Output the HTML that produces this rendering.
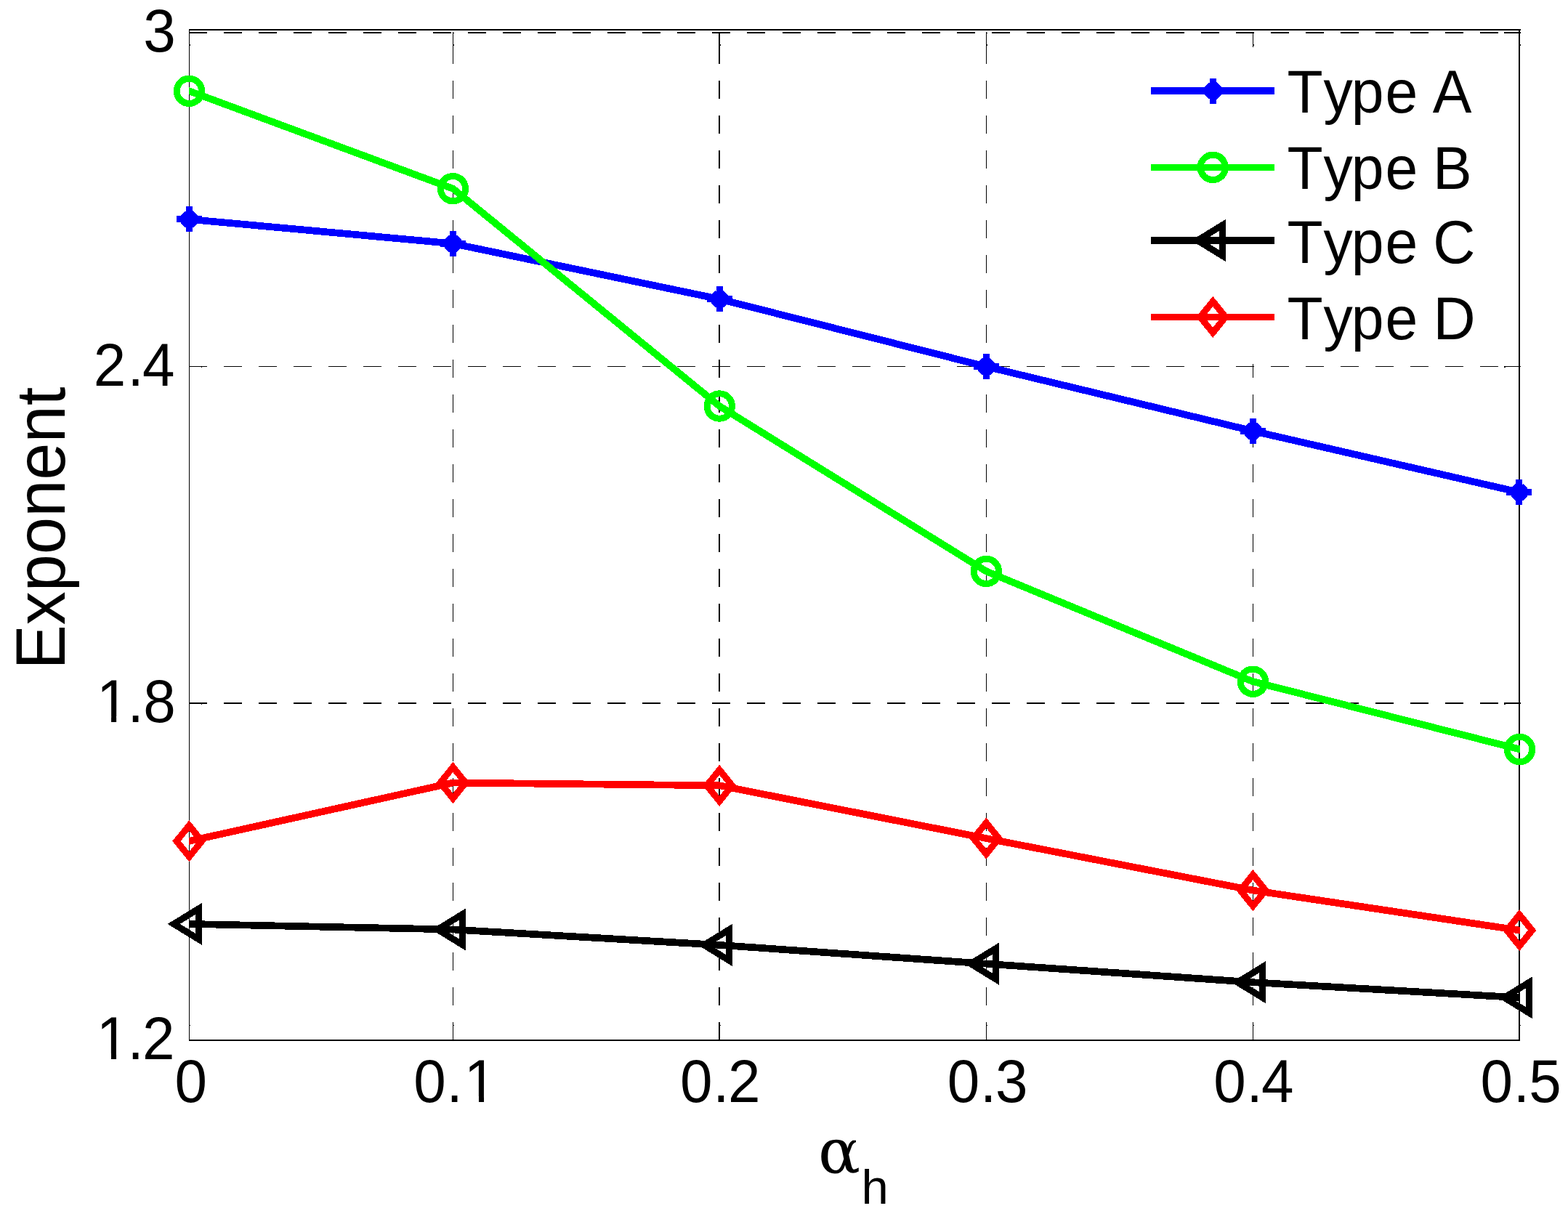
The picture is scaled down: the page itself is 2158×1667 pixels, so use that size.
<!DOCTYPE html>
<html><head><meta charset="utf-8"><title>Exponent vs alpha_h</title>
<style>
html,body{margin:0;padding:0;background:#fff;}
body{width:2158px;height:1667px;overflow:hidden;}
svg{display:block;}
text{font-family:"Liberation Sans",sans-serif;fill:#000;font-kerning:none;}
</style></head><body>
<svg width="2158" height="1667" viewBox="0 0 2158 1667">
<defs><clipPath id="ax"><rect x="260" y="40" width="1832" height="1393"/></clipPath></defs>
<rect width="2158" height="1667" fill="#fff"/>
<g stroke="#000" fill="none" shape-rendering="crispEdges">
<path d="M623.5 1432V63" stroke-width="1" stroke-dasharray="25 23"/><path d="M623.5 63V44" stroke-width="1"/>
<path d="M990 1432V63" stroke-width="2" stroke-dasharray="25 23"/><path d="M990 63V44" stroke-width="2"/>
<path d="M1357.5 1432V63" stroke-width="1" stroke-dasharray="25 23"/><path d="M1357.5 63V44" stroke-width="1"/>
<path d="M1724.5 1432V63" stroke-width="1" stroke-dasharray="25 23"/><path d="M1724.5 63V44" stroke-width="1"/>
<path d="M260 45H2070" stroke-width="2" stroke-dasharray="25 23.03"/><path d="M2070 45H2093" stroke-width="2"/>
<path d="M260 504.5H2070" stroke-width="1" stroke-dasharray="25 23.03"/><path d="M2070 504.5H2093" stroke-width="1"/>
<path d="M260 968H2070" stroke-width="2" stroke-dasharray="25 23.03"/><path d="M2070 968H2093" stroke-width="2"/>
<path d="M260.5 40V1433" stroke-width="1"/><path d="M2091 40V1433" stroke-width="2"/><path d="M260 41H2093" stroke-width="2"/><path d="M260 1432H2092" stroke-width="2"/>
<rect x="261" y="61" width="1" height="2" fill="#000" stroke="none"/>
<rect x="261" y="1411" width="1" height="1" fill="#000" stroke="none"/>
<rect x="624" y="61" width="1" height="2" fill="#000" stroke="none"/>
<rect x="624" y="1411" width="1" height="1" fill="#000" stroke="none"/>
<rect x="991" y="61" width="1" height="2" fill="#000" stroke="none"/>
<rect x="991" y="1411" width="1" height="1" fill="#000" stroke="none"/>
<rect x="1358" y="61" width="1" height="2" fill="#000" stroke="none"/>
<rect x="1358" y="1411" width="1" height="1" fill="#000" stroke="none"/>
<rect x="1725" y="61" width="1" height="2" fill="#000" stroke="none"/>
<rect x="1725" y="1411" width="1" height="1" fill="#000" stroke="none"/>
<rect x="2092" y="61" width="1" height="2" fill="#000" stroke="none"/>
<rect x="2092" y="1411" width="1" height="1" fill="#000" stroke="none"/>
<rect x="624" y="45" width="1" height="1" fill="#000" stroke="none"/>
<rect x="991" y="45" width="1" height="1" fill="#000" stroke="none"/>
<rect x="1358" y="45" width="1" height="1" fill="#000" stroke="none"/>
<rect x="1725" y="45" width="1" height="1" fill="#000" stroke="none"/>
<rect x="277" y="505" width="1" height="1" fill="#000" stroke="none"/>
<rect x="2070" y="505" width="2" height="1" fill="#000" stroke="none"/>
<rect x="277" y="969" width="1" height="1" fill="#000" stroke="none"/>
<rect x="2070" y="969" width="2" height="1" fill="#000" stroke="none"/>
</g>
<g shape-rendering="crispEdges">
<polyline points="248.4,300.8 260.4,301.9 623.4,335.3 990.2,411.7 1357.3,504.6 1724.4,593.3 2090.8,677.6 2102.8,680.36" stroke="#0000ff" stroke-width="9.7" fill="none" stroke-linejoin="round" clip-path="url(#ax)"/>
<path d="M242.9 301.9H277.9M260.4 284.4V319.4M251.8 293.3L269 310.5M251.8 310.5L269 293.3" stroke="#0000ff" stroke-width="9" fill="none"/>
<path d="M605.9 335.3H640.9M623.4 317.8V352.8M614.8 326.7L632 343.9M614.8 343.9L632 326.7" stroke="#0000ff" stroke-width="9" fill="none"/>
<path d="M972.7 411.7H1007.7M990.2 394.2V429.2M981.6 403.1L998.8 420.3M981.6 420.3L998.8 403.1" stroke="#0000ff" stroke-width="9" fill="none"/>
<path d="M1339.8 504.6H1374.8M1357.3 487.1V522.1M1348.7 496L1365.9 513.2M1348.7 513.2L1365.9 496" stroke="#0000ff" stroke-width="9" fill="none"/>
<path d="M1706.9 593.3H1741.9M1724.4 575.8V610.8M1715.8 584.7L1733 601.9M1715.8 601.9L1733 584.7" stroke="#0000ff" stroke-width="9" fill="none"/>
<path d="M2073.3 677.6H2108.3M2090.8 660.1V695.1M2082.2 669L2099.4 686.2M2082.2 686.2L2099.4 669" stroke="#0000ff" stroke-width="9" fill="none"/>
<polyline points="248.4,120.86 260.4,125.3 623.4,259.7 990.2,559 1357.3,786.4 1724.4,938.2 2091.5,1031.5 2103.5,1034.55" stroke="#00ff00" stroke-width="9.7" fill="none" stroke-linejoin="round" clip-path="url(#ax)"/>
<circle cx="260.4" cy="125.3" r="17.2" stroke="#00ff00" stroke-width="9" fill="none"/>
<circle cx="623.4" cy="259.7" r="17.2" stroke="#00ff00" stroke-width="9" fill="none"/>
<circle cx="990.2" cy="559" r="17.2" stroke="#00ff00" stroke-width="9" fill="none"/>
<circle cx="1357.3" cy="786.4" r="17.2" stroke="#00ff00" stroke-width="9" fill="none"/>
<circle cx="1724.4" cy="938.2" r="17.2" stroke="#00ff00" stroke-width="9" fill="none"/>
<circle cx="2091.5" cy="1031.5" r="17.2" stroke="#00ff00" stroke-width="9" fill="none"/>
<polyline points="248.4,1271.65 260.4,1271.9 623.4,1279.5 990.2,1300.9 1357.3,1326.7 1724.4,1352.2 2091.5,1373.3 2103.5,1373.99" stroke="#000000" stroke-width="9.7" fill="none" stroke-linejoin="round" clip-path="url(#ax)"/>
<path d="M239.2 1271.9L273.4 1250.9V1292.9Z" stroke="#000000" stroke-width="9" fill="none" stroke-linejoin="miter" stroke-miterlimit="10"/>
<path d="M602.2 1279.5L636.4 1258.5V1300.5Z" stroke="#000000" stroke-width="9" fill="none" stroke-linejoin="miter" stroke-miterlimit="10"/>
<path d="M969 1300.9L1003.2 1279.9V1321.9Z" stroke="#000000" stroke-width="9" fill="none" stroke-linejoin="miter" stroke-miterlimit="10"/>
<path d="M1336.1 1326.7L1370.3 1305.7V1347.7Z" stroke="#000000" stroke-width="9" fill="none" stroke-linejoin="miter" stroke-miterlimit="10"/>
<path d="M1703.2 1352.2L1737.4 1331.2V1373.2Z" stroke="#000000" stroke-width="9" fill="none" stroke-linejoin="miter" stroke-miterlimit="10"/>
<path d="M2070.3 1373.3L2104.5 1352.3V1394.3Z" stroke="#000000" stroke-width="9" fill="none" stroke-linejoin="miter" stroke-miterlimit="10"/>
<polyline points="248.4,1160.45 260.4,1157.8 623.4,1077.5 990.2,1081.3 1357.3,1154.1 1724.4,1225.6 2091.2,1280.6 2103.2,1282.4" stroke="#ff0000" stroke-width="9.7" fill="none" stroke-linejoin="round" clip-path="url(#ax)"/>
<path d="M260.4 1136.3L277.8 1157.8L260.4 1179.3L243 1157.8Z" stroke="#ff0000" stroke-width="9" fill="none" stroke-linejoin="miter" stroke-miterlimit="10"/>
<path d="M623.4 1056L640.8 1077.5L623.4 1099L606 1077.5Z" stroke="#ff0000" stroke-width="9" fill="none" stroke-linejoin="miter" stroke-miterlimit="10"/>
<path d="M990.2 1059.8L1007.6 1081.3L990.2 1102.8L972.8 1081.3Z" stroke="#ff0000" stroke-width="9" fill="none" stroke-linejoin="miter" stroke-miterlimit="10"/>
<path d="M1357.3 1132.6L1374.7 1154.1L1357.3 1175.6L1339.9 1154.1Z" stroke="#ff0000" stroke-width="9" fill="none" stroke-linejoin="miter" stroke-miterlimit="10"/>
<path d="M1724.4 1204.1L1741.8 1225.6L1724.4 1247.1L1707 1225.6Z" stroke="#ff0000" stroke-width="9" fill="none" stroke-linejoin="miter" stroke-miterlimit="10"/>
<path d="M2091.2 1259.1L2108.6 1280.6L2091.2 1302.1L2073.8 1280.6Z" stroke="#ff0000" stroke-width="9" fill="none" stroke-linejoin="miter" stroke-miterlimit="10"/>
<rect x="1575" y="65" width="505" height="436" fill="#fff"/>
<path d="M1584 125H1754" stroke="#0000ff" stroke-width="9.7"/>
<path d="M1651.75 125H1686.75M1669.25 107.5V142.5M1660.65 116.4L1677.85 133.6M1660.65 133.6L1677.85 116.4" stroke="#0000ff" stroke-width="9" fill="none"/>
<path d="M1584 230.4H1754" stroke="#00ff00" stroke-width="9.7"/>
<circle cx="1669.25" cy="230.4" r="17.2" stroke="#00ff00" stroke-width="9" fill="none"/>
<path d="M1584 331H1754" stroke="#000000" stroke-width="9.7"/>
<path d="M1648.05 331L1682.25 310V352Z" stroke="#000000" stroke-width="9" fill="none" stroke-linejoin="miter" stroke-miterlimit="10"/>
<path d="M1584 436.4H1754" stroke="#ff0000" stroke-width="9.7"/>
<path d="M1669.25 414.9L1686.65 436.4L1669.25 457.9L1651.85 436.4Z" stroke="#ff0000" stroke-width="9" fill="none" stroke-linejoin="miter" stroke-miterlimit="10"/>
</g>
<text transform="translate(0,155.1) scale(1,1.03)" x="1771.43 1821.41 1859.76 1906.39 1951.16 1971.65" y="0" font-size="80.5">Type A</text>
<text transform="translate(0,260.1) scale(1,1.03)" x="1771.43 1821.41 1859.76 1906.39 1951.16 1972.12" y="0" font-size="80.5">Type B</text>
<text transform="translate(0,362.3) scale(1,1.03)" x="1771.43 1821.41 1859.76 1906.39 1951.16 1972.17" y="0" font-size="80.5">Type C</text>
<text transform="translate(0,467.3) scale(1,1.03)" x="1771.43 1821.41 1859.76 1906.39 1951.16 1972.51" y="0" font-size="80.5">Type D</text>
<text transform="translate(0,1517.1) scale(1,1.04)" x="240.4" y="0" font-size="80">0</text>
<text transform="translate(0,1517.1) scale(1,1.04)" x="569.2 614.49 638.85" y="0" font-size="80">0.1</text>
<rect x="642.85" y="1509" width="16.12" height="10.1" fill="#fff"/>
<rect x="666.04" y="1509" width="16" height="10.1" fill="#fff"/>
<text transform="translate(0,1517.1) scale(1,1.04)" x="935.9 981.19 1002.1" y="0" font-size="80">0.2</text>
<text transform="translate(0,1517.1) scale(1,1.04)" x="1303.8 1349.09 1369.89" y="0" font-size="80">0.3</text>
<text transform="translate(0,1517.1) scale(1,1.04)" x="1670.3 1715.39 1736.06" y="0" font-size="80">0.4</text>
<text transform="translate(0,1517.1) scale(1,1.04)" x="2037.4 2082.69 2104.13" y="0" font-size="80">0.5</text>
<text transform="translate(0,71.2) scale(1,1.04)" x="197.19" y="0" font-size="80">3</text>
<text transform="translate(0,531) scale(1,1.04)" x="128.75 175.39 196.06" y="0" font-size="80">2.4</text>
<text transform="translate(0,994.1) scale(1,1.04)" x="132.95 175.39 197.35" y="0" font-size="80">1.8</text>
<rect x="136.95" y="986" width="16.12" height="10.1" fill="#fff"/>
<rect x="160.14" y="986" width="16" height="10.1" fill="#fff"/>
<text transform="translate(0,1457.9) scale(1,1.04)" x="132.85 175.49 195.9" y="0" font-size="80">1.2</text>
<rect x="136.85" y="1450" width="16.12" height="9.9" fill="#fff"/>
<rect x="160.04" y="1450" width="16" height="9.9" fill="#fff"/>
<text transform="translate(89.2,921.5) rotate(-90) scale(1,1.04)" font-size="92" x="0" y="0">Exponent</text>
<text x="1126" y="1614.8" font-size="86" style="font-family:'DejaVu Serif',serif">α</text>
<text x="1185.5" y="1657" font-size="67">h</text>
</svg></body></html>
